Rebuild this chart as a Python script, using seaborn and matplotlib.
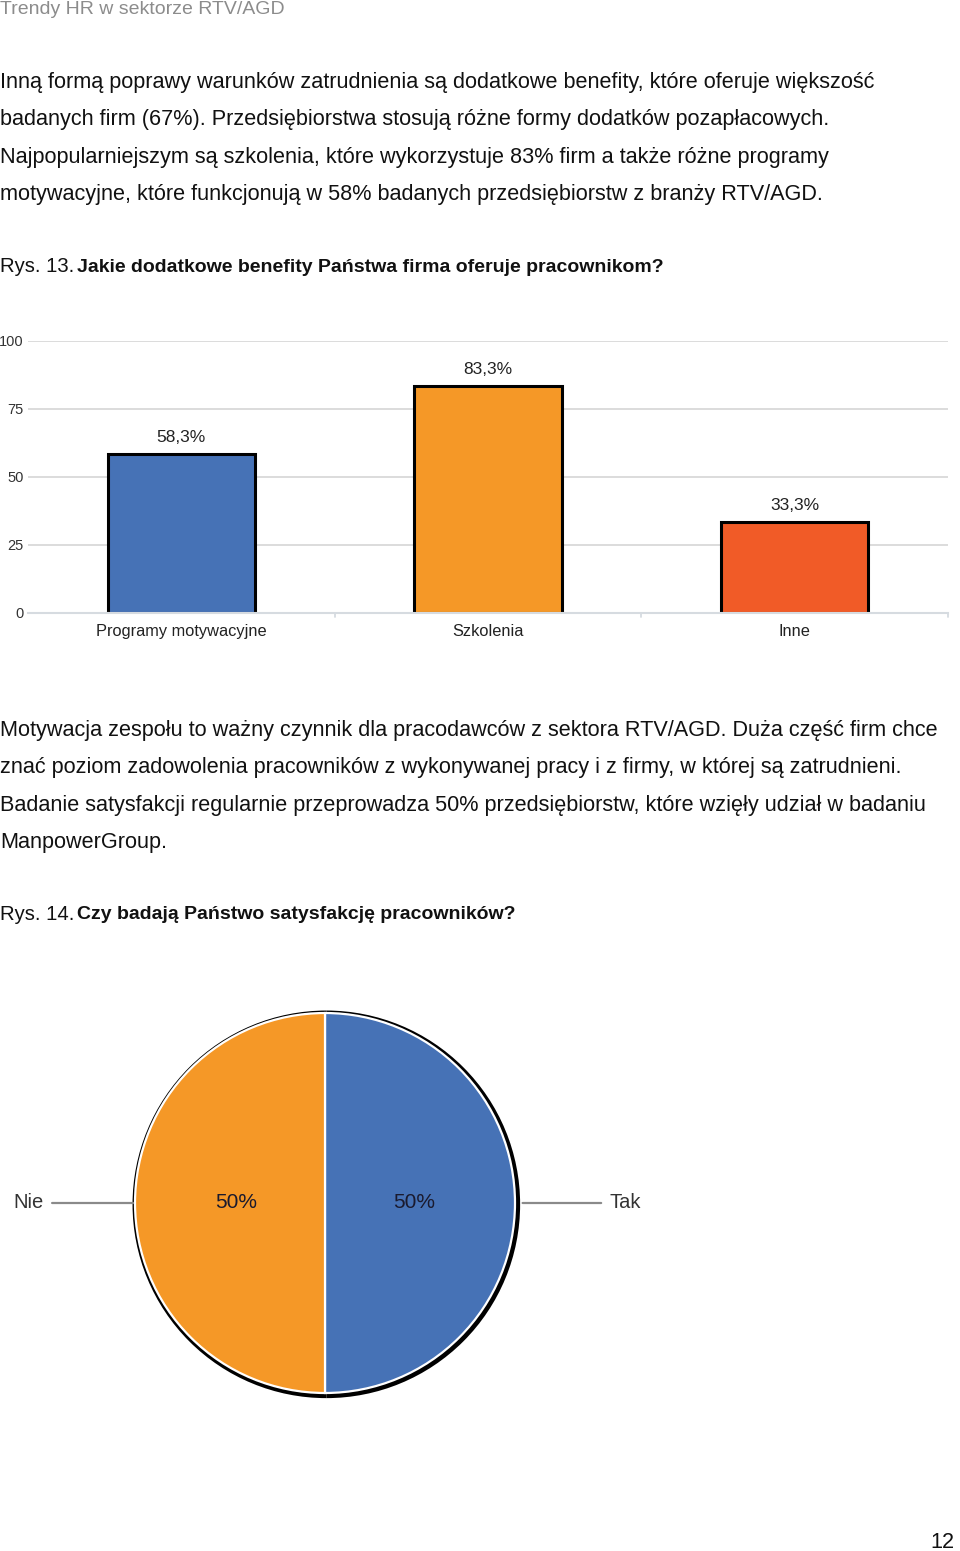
import matplotlib
matplotlib.use("Agg")
import matplotlib.pyplot as plt
import seaborn as sns
import pandas as pd

# ---- data ----
bar_categories = ["Programy motywacyjne", "Szkolenia", "Inne"]
bar_values = [58.3, 83.3, 33.3]
bar_colors = ["#4672b6", "#f59827", "#f15b27"]
y_ticks = [0, 25, 50, 75, 100]

pie_labels = ["Tak", "Nie"]
pie_values = [50, 50]
pie_colors = ["#4672b6", "#f59827"]

header = "Trendy HR w sektorze RTV/AGD"
para1 = [
    "Inną formą poprawy warunków zatrudnienia są dodatkowe benefity, które oferuje większość",
    "badanych firm (67%). Przedsiębiorstwa stosują różne formy dodatków pozapłacowych.",
    "Najpopularniejszym są szkolenia, które wykorzystuje 83% firm a także różne programy",
    "motywacyjne, które funkcjonują w 58% badanych przedsiębiorstw z branży RTV/AGD.",
]
fig1_prefix = "Rys. 13."
fig1_title = "Jakie dodatkowe benefity Państwa firma oferuje pracownikom?"
para2 = [
    "Motywacja zespołu to ważny czynnik dla pracodawców z sektora RTV/AGD. Duża część firm chce",
    "znać poziom zadowolenia pracowników z wykonywanej pracy i z firmy, w której są zatrudnieni.",
    "Badanie satysfakcji regularnie przeprowadza 50% przedsiębiorstw, które wzięły udział w badaniu",
    "ManpowerGroup.",
]
fig2_prefix = "Rys. 14."
fig2_title = "Czy badają Państwo satysfakcję pracowników?"
page_no = "12"

sns.set_style("white")
plt.rcParams["font.family"] = ["Liberation Sans", "DejaVu Sans"]

W, H = 960, 1551
fig = plt.figure(figsize=(W / 100, H / 100), dpi=100)


def fy(py):
    return 1 - py / H


BODY = 15.55
BOLD = 14.0
TXT = "#111111"

fig.text(0, fy(10), header, fontsize=14, color="#8c8c8c", va="center")
for i, line in enumerate(para1):
    fig.text(0, fy(82.5 + i * 37.4), line, fontsize=BODY, color=TXT, va="center")
fig.text(0, fy(267), fig1_prefix, fontsize=14.6, color=TXT, va="center")
fig.text(77 / W, fy(267), fig1_title, fontsize=BOLD, color=TXT, va="center", fontweight="bold")
for i, line in enumerate(para2):
    fig.text(0, fy(730.5 + i * 37.4), line, fontsize=BODY, color=TXT, va="center")
fig.text(0, fy(915), fig2_prefix, fontsize=14.6, color=TXT, va="center")
fig.text(77 / W, fy(915), fig2_title, fontsize=BOLD, color=TXT, va="center", fontweight="bold")
fig.text(955 / W, fy(1543), page_no, fontsize=BODY, color=TXT, va="center", ha="right")

# ---- bar chart ----
x0, x1 = 28, 948
ytop, ybot = 341, 613
ax = fig.add_axes([x0 / W, (H - ybot) / H, (x1 - x0) / W, (ybot - ytop) / H])
df = pd.DataFrame({"cat": bar_categories, "val": bar_values})
sns.barplot(data=df, x="cat", y="val", hue="cat", palette=bar_colors, legend=False,
            width=0.48, edgecolor="black", linewidth=2.2, ax=ax, saturation=1)
ax.set_xlim(-0.5, 2.5)
ax.set_ylim(0, 100)
ax.set_yticks(y_ticks)
ax.set_yticklabels([str(t) for t in y_ticks], fontsize=10.5, color="#333333")
ax.tick_params(axis="y", length=0, pad=3)
ax.tick_params(axis="x", length=0, pad=8, labelsize=11.8, labelcolor="#222222")
ax.set_xlabel("")
ax.set_ylabel("")
for s in ["top", "right", "left"]:
    ax.spines[s].set_visible(False)
ax.spines["bottom"].set_color("#d6dbe0")
ax.spines["bottom"].set_linewidth(1.5)
ax.grid(axis="y", color="#d9d9d9", linewidth=1.3)
ax.set_axisbelow(True)
for b in [0.5, 1.5, 2.5]:
    ax.plot([b, b], [0, -1.5], color="#d6dbe0", lw=1.3, clip_on=False)
labels = [f"{v:.1f}".replace(".", ",") + "%" for v in bar_values]
for cont in ax.containers:
    ax.bar_label(cont, labels=[labels[int(round(r.get_x() + r.get_width() / 2))] for r in cont],
                 padding=7, fontsize=12.5, color="#222222")

# ---- pie chart ----
cx, cy, R = 325, 1203, 190
px0, px1, py0, py1 = 0, 660, 1000, 1400
axp = fig.add_axes([px0 / W, (H - py1) / H, (px1 - px0) / W, (py1 - py0) / H])
# dark rim behind pie
axp.pie(pie_values, colors=["black", "black"], radius=1.02, center=(0.007, -0.007),
        startangle=90, counterclock=False, frame=True,
        wedgeprops=dict(linewidth=0))
wedges, texts, autotexts = axp.pie(
    pie_values, colors=pie_colors, radius=1.0, startangle=90, counterclock=False,
    autopct=lambda p: f"{p:.0f}%", pctdistance=0.47, frame=True,
    wedgeprops=dict(edgecolor="white", linewidth=1.6),
    textprops=dict(fontsize=15, color="#1a1a2e"))
axp.set_xlim((px0 - cx) / R, (px1 - cx) / R)
axp.set_ylim(-(py1 - cy) / R, (cy - py0) / R)
axp.set_aspect("auto")
axp.axis("off")
# leader labels
axp.annotate(pie_labels[0], xy=(1.04, 0), xytext=((610 - cx) / R, 0.0),
             fontsize=14.5, color="#333333", va="center", ha="left",
             arrowprops=dict(arrowstyle="-", color="#8a8a8a", lw=1.6, shrinkA=4, shrinkB=0))
axp.annotate(pie_labels[1], xy=(-1.01, 0.0), xytext=((13 - cx) / R, 0.0),
             fontsize=14.5, color="#333333", va="center", ha="left",
             arrowprops=dict(arrowstyle="-", color="#8a8a8a", lw=1.6, shrinkA=4, shrinkB=0))

fig.savefig("out.png", dpi=100)
